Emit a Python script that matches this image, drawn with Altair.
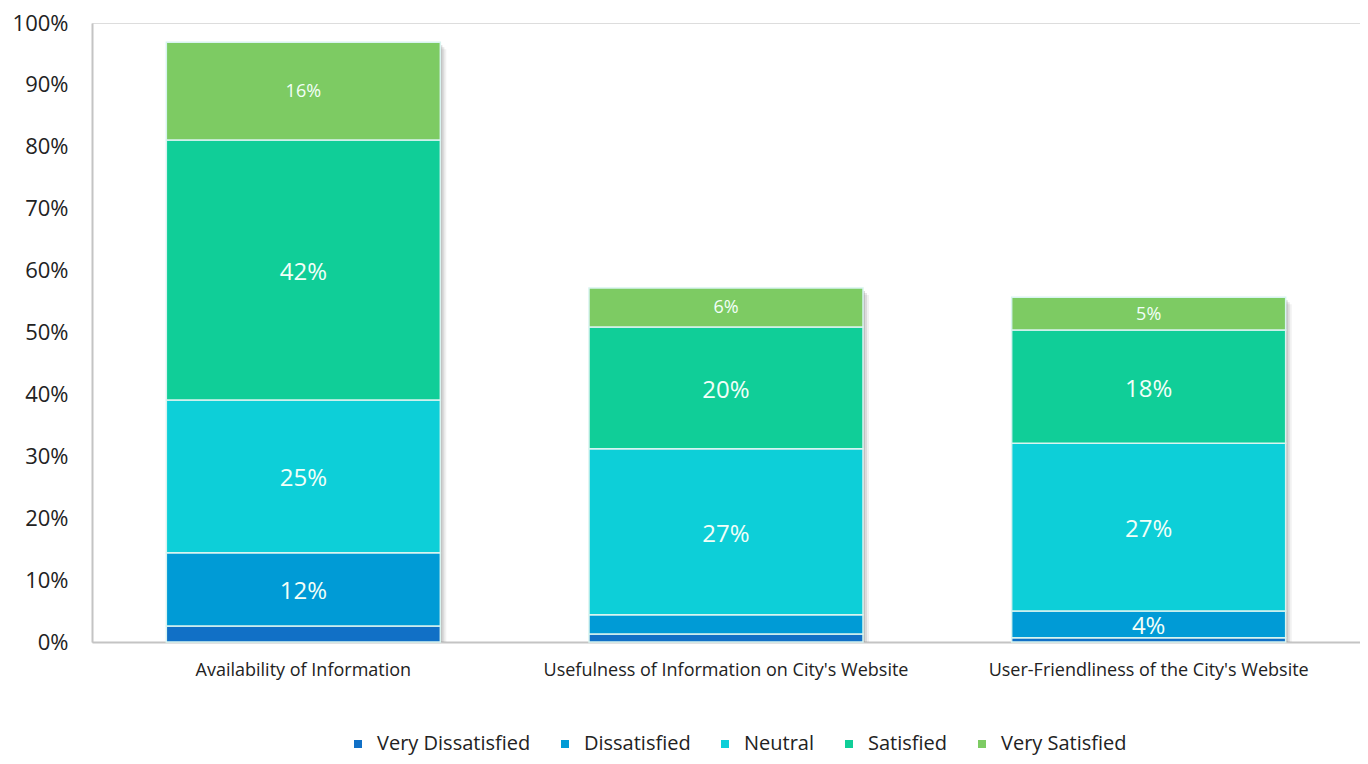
import altair as alt
import pandas as pd

categories = ["Availability of Information",
              "Usefulness of Information on City's Website",
              "User-Friendliness of the City's Website"]
levels = ["Very Dissatisfied", "Dissatisfied", "Neutral", "Satisfied", "Very Satisfied"]
colors = ["#1170c6", "#009bd6", "#0dcfd8", "#10ce98", "#7dcb63"]

very_dissatisfied = [2.6, 1.3, 0.7]
dissatisfied = [11.8, 3.1, 4.3]
neutral = [24.7, 26.8, 27.1]
satisfied = [42.0, 19.7, 18.3]
very_satisfied = [15.8, 6.3, 5.3]

labels = {
    "Very Dissatisfied": ["", "", ""],
    "Dissatisfied": ["12%", "", "4%"],
    "Neutral": ["25%", "27%", "27%"],
    "Satisfied": ["42%", "20%", "18%"],
    "Very Satisfied": ["16%", "6%", "5%"],
}
series = [very_dissatisfied, dissatisfied, neutral, satisfied, very_satisfied]

rows = []
totals = []
for ci, cat in enumerate(categories):
    base = 0.0
    for li, lev in enumerate(levels):
        v = series[li][ci]
        rows.append({
            "cat": cat, "level": lev, "order": li, "value": v,
            "y0": base, "y1": base + v, "mid": base + v / 2,
            "label": labels[lev][ci],
            "small": lev == "Very Satisfied",
        })
        base += v
    totals.append({"cat": cat, "total": base, "zero": 0.0})
df = pd.DataFrame(rows)
tot = pd.DataFrame(totals)

FONT = "Open Sans"

x_axis = alt.Axis(labelAngle=0, labelFontSize=18, labelColor="#222222",
                  labelFont=FONT, ticks=False, labelPadding=19,
                  domainColor="#c4c4c4", domainWidth=2, labelLimit=500)
x_scale = alt.Scale(paddingInner=0, paddingOuter=0)
y_scale = alt.Scale(domain=[0, 100], nice=False)
y_axis = alt.Axis(values=list(range(0, 101, 10)), labelExpr="datum.value + '%'",
                  ticks=False, grid=False, labelFontSize=22, labelFont=FONT,
                  labelColor="#222222", labelPadding=24, domainColor="#c4c4c4",
                  domainWidth=2, minExtent=84, maxExtent=84)

shadows = []
for off, op in [(6, 0.10), (4, 0.18), (2, 0.28)]:
    shadows.append(
        alt.Chart(tot).mark_bar(size=274, color="#7a7a7a", opacity=op,
                                xOffset=off, yOffset=off + 1).encode(
            x=alt.X("cat:N", sort=categories, title=None, scale=x_scale, axis=x_axis),
            y=alt.Y("total:Q", scale=y_scale, title=None, axis=y_axis),
            y2="zero:Q",
        )
    )

bars = alt.Chart(df).mark_bar(size=274, stroke="#d8f4f0", strokeWidth=1.5).encode(
    x=alt.X("cat:N", sort=categories, title=None, scale=x_scale, axis=x_axis),
    y=alt.Y("y0:Q", scale=y_scale, title=None, axis=y_axis),
    y2="y1:Q",
    color=alt.Color("level:N", sort=levels,
                    scale=alt.Scale(domain=levels, range=colors),
                    legend=alt.Legend(title=None, orient="none", direction="horizontal",
                                      legendX=256, legendY=711, symbolType="square",
                                      symbolSize=64, labelFontSize=20, labelFont=FONT,
                                      labelColor="#222222", labelOffset=9,
                                      labelLimit=400,
                                      columnPadding=24, symbolStrokeWidth=0)),
    order="order:Q",
)

big = alt.Chart(df).transform_filter("!datum.small").mark_text(
    color="#f2fff8", fontSize=24, font=FONT, baseline="middle", dy=3).encode(
    x=alt.X("cat:N", sort=categories), y=alt.Y("mid:Q", scale=y_scale), text="label:N")

small = alt.Chart(df).transform_filter("datum.small").mark_text(
    color="#f2fff8", fontSize=18, font=FONT, baseline="middle", dy=1).encode(
    x=alt.X("cat:N", sort=categories), y=alt.Y("mid:Q", scale=y_scale), text="label:N")

chart = alt.layer(*shadows, bars, big, small).properties(
    width=1268, height=619,
    autosize=alt.AutoSizeParams(type="none"),
    padding={"left": 84, "top": 15, "right": 0, "bottom": 114},
).configure_view(stroke=None).configure(background="white")

chart.save("out.html", embed_options={"renderer": "svg", "actions": False})
